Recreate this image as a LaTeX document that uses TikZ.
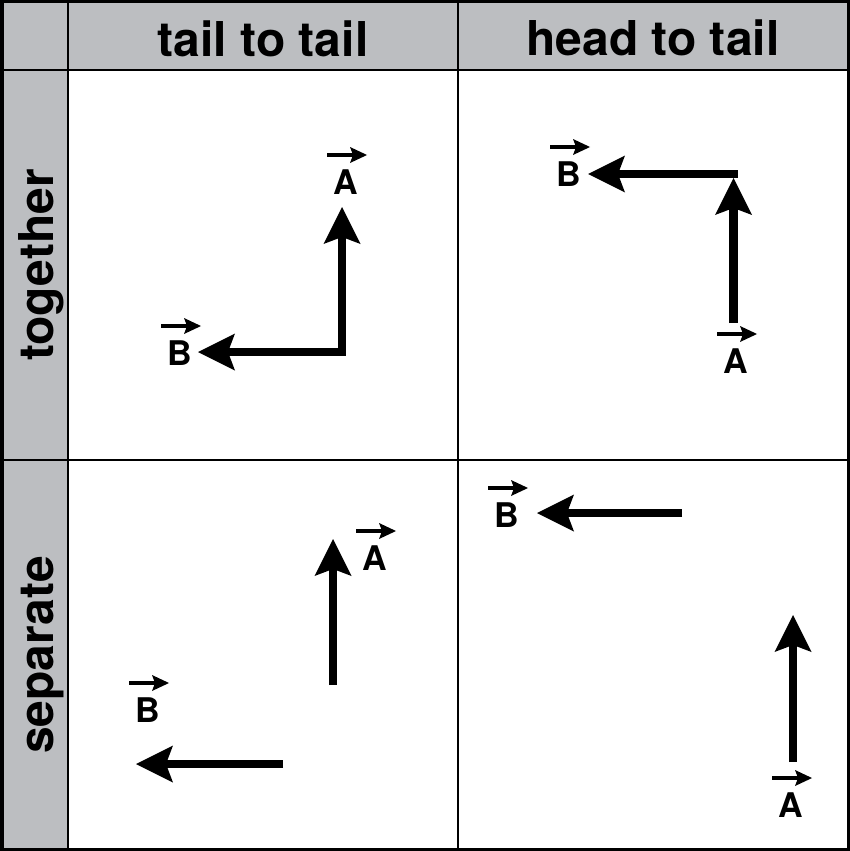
\documentclass[tikz,border=0pt]{standalone}
\usepackage{fontspec}
\setmainfont{TeX Gyre Heros}
\usetikzlibrary{arrows.meta,calc}
\definecolor{hdr}{HTML}{BCBEC1}
\newcommand\vlab[3]{%
  \node[lab] (#1) at (#2) {#3};
  \draw[ov] ([xshift=-19pt,yshift=27pt]#1.center) -- ([xshift=21pt,yshift=27pt]#1.center);}
\begin{document}
\begin{tikzpicture}[x=1pt,y=-1pt,
  vec/.style={line width=8.5pt,-{Stealth[length=37pt,width=37pt,inset=7pt,line width=0pt]}},
  lab/.style={font=\fontsize{34}{36}\selectfont\bfseries,inner sep=0pt},
  hd/.style={font=\fontsize{48}{50}\selectfont\bfseries,inner sep=0pt,anchor=base},
  ov/.style={line width=3.6pt,-{Stealth[length=17pt,width=16pt,inset=3pt,line width=0pt]}},
  grid/.style={line width=2.6pt}]
\useasboundingbox (0,0) rectangle (850,851);
% header bands
\fill[hdr] (0,0) rectangle (850,70);
\fill[hdr] (0,0) rectangle (68,851);
% grid
\draw[grid] (68,0) -- (68,851);
\draw[grid] (458,0) -- (458,851);
\draw[grid] (0,70) -- (850,70);
\draw[grid] (0,460) -- (850,460);
\draw[line width=3.5pt] (1.75,1.75) rectangle (848.25,849.25);
% headings
\node[hd] (h1) at (263,57) {tail to tail};
\node[hd] (h2) at (653,56) {head to tail};
\node[hd,rotate=90] (r1) at (53,265) {together};
\node[hd,rotate=90] (r2) at (53,655) {separate};
% top-left: tail to tail, together
\coordinate (tlO) at (342,352);
\coordinate (tlA) at (342,207);
\coordinate (tlB) at (198,352);
\draw[vec,line cap=rect] (tlO) -- (tlA);
\draw[vec,line cap=rect] (tlO) -- (tlB);
\vlab{tlLA}{346,182}{A}
\vlab{tlLB}{180,353}{B}
% top-right: head to tail, together
\coordinate (trO) at (733.5,323);
\coordinate (trA) at (733.5,178);
\coordinate (trC) at (737.5,174);
\coordinate (trB) at (588,174);
\draw[vec] (trC) -- (trB);
\draw[vec] (trO) -- (trA);
\vlab{trLB}{569,174}{B}
\vlab{trLA}{736,361}{A}
% bottom-left: tail to tail, separate
\coordinate (blO) at (333,685);
\coordinate (blA) at (333,539);
\coordinate (blC) at (283,764);
\coordinate (blB) at (136,764);
\draw[vec] (blO) -- (blA);
\draw[vec] (blC) -- (blB);
\vlab{blLA}{375,558}{A}
\vlab{blLB}{148,710}{B}
% bottom-right: head to tail, separate
\coordinate (brC) at (682,513);
\coordinate (brB) at (537,513);
\coordinate (brO) at (793,762);
\coordinate (brA) at (793,615);
\draw[vec] (brC) -- (brB);
\draw[vec] (brO) -- (brA);
\vlab{brLB}{507,515}{B}
\vlab{brLA}{791,805}{A}
\end{tikzpicture}
\end{document}
